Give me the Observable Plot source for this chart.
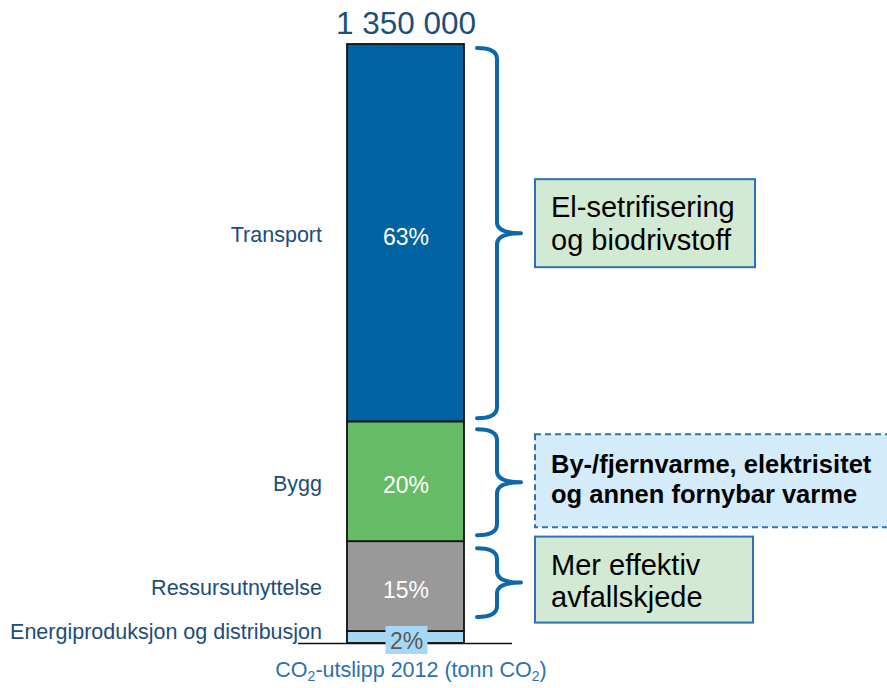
<!DOCTYPE html>
<html>
<head>
<meta charset="utf-8">
<script src="https://cdn.jsdelivr.net/npm/d3@7"></script>
<script src="https://cdn.jsdelivr.net/npm/@observablehq/plot@0.6"></script>
<style>
  html, body { margin: 0; padding: 0; background: #fff; }
  #chart svg { display: block; }
</style>
</head>
<body>
<div id="chart"></div>
<script>
// ---- data ----
const categories = ["Energiproduksjon og distribusjon", "Ressursutnyttelse", "Bygg", "Transport"];
const shares = [2, 15, 20, 63];
const totalLabel = "1 350 000";
const barKey = "2012";
const measureTargets = ["Transport", "Bygg", "Ressursutnyttelse"];
const measureLines = [
  ["El-setrifisering", "og biodrivstoff"],
  ["By-/fjernvarme, elektrisitet", "og annen fornybar varme"],
  ["Mer effektiv", "avfallskjede"]
];

// ---- styles ----
const colors = ["#A6D8F5", "#999999", "#66BC66", "#0063A2"];
const labelColor = "#1C4E7A";
const braceColor = "#0E67A7";
const font = "'Liberation Sans', Arial, sans-serif";

// derived stack
const ends = d3.cumsum(shares);
const data = categories.map((c, i) => ({
  category: c, share: shares[i], y1: ends[i] - shares[i], y2: ends[i],
  mid: ends[i] - shares[i] / 2, label: shares[i] + "%"
}));
const inside = data.filter(d => d.share > 5);
const small = data.filter(d => d.share <= 5);

const chart = Plot.plot({
  width: 887, height: 688,
  marginLeft: 347, marginRight: 423, marginTop: 44, marginBottom: 45,
  style: {fontFamily: font, background: "#fff", overflow: "visible"},
  x: {type: "band", domain: [barKey], padding: 0, axis: null},
  y: {domain: [0, 100], axis: null},
  color: {domain: categories, range: colors},
  marks: [
    Plot.rectY(data, {x: () => barKey, y1: "y1", y2: "y2", fill: "category", stroke: "#111", strokeWidth: 1.8}),
    Plot.text(inside, {x: () => barKey, y: "mid", text: "label", fill: "white", fontSize: 23, dy: 4}),
    Plot.text(inside, {x: () => barKey, y: "mid", text: "category", textAnchor: "end", dx: -84, dy: 2, fill: labelColor, fontSize: 21.5}),
    Plot.text(small, {x: () => barKey, y: "mid", text: "category", textAnchor: "end", dx: -84, dy: -5, fill: labelColor, fontSize: 21.5}),
    Plot.text([totalLabel], {x: () => barKey, y: () => 100, text: d => d, dy: -21, fill: labelColor, fontSize: 31.5})
  ]
});

document.getElementById("chart").appendChild(chart);

// ---- annotations using the plot's own scales ----
const ys = chart.scale("y");
const xs = chart.scale("x");
const y = d3.scaleLinear().domain(ys.domain).range(ys.range);
const barLeft = Math.min(...xs.range), barRight = Math.max(...xs.range);
const svg = d3.select(chart);
const g = svg.append("g").attr("text-anchor", "start");

// baseline
g.append("line").attr("x1", barLeft - 49).attr("x2", barRight + 48)
  .attr("y1", y(0) + 0.5).attr("y2", y(0) + 0.5).attr("stroke", "#111").attr("stroke-width", 1.5);

// small segment label with background
small.forEach(d => {
  const cx = (barLeft + barRight) / 2 + 1, cy = y(d.mid) + 3;
  g.append("rect").attr("x", cx - 21).attr("y", cy - 14).attr("width", 42).attr("height", 28)
    .attr("fill", colors[categories.indexOf(d.category)]);
  g.append("text").attr("x", cx).attr("y", cy + 9).attr("text-anchor", "middle")
    .attr("font-size", 23).attr("fill", "#595959").attr("font-family", font).text(d.label);
});

// x-axis label with subscripts
const xl = g.append("text").attr("x", 411).attr("y", 677).attr("text-anchor", "middle")
  .attr("font-size", 21.5).attr("fill", "#2A72B0").attr("font-family", font);
xl.append("tspan").text("CO");
xl.append("tspan").attr("font-size", 14).attr("dy", 4).text("2");
xl.append("tspan").attr("dy", -4).text("-utslipp 2012 (tonn CO");
xl.append("tspan").attr("font-size", 14).attr("dy", 4).text("2");
xl.append("tspan").attr("dy", -4).text(")");

// braces + boxes
const braceInsets = [[4, 3], [8, 6], [7, 14]];
const boxLayout = [
  {top: -54, h: 88, w: 220, fill: "#D2EAD3", dash: null, bold: false, size: 29, lines: [38, 71]},
  {top: -48, h: 93, w: 360, fill: "#D4ECFA", dash: "6,4", bold: true, size: 25.5, lines: [39, 69]},
  {top: -46, h: 86, w: 218, fill: "#D2EAD3", dash: null, bold: false, size: 29, lines: [38, 70]}
];
measureTargets.forEach((cat, i) => {
  const d = data.find(e => e.category === cat);
  const t = y(d.y2) + braceInsets[i][0];
  const b = y(d.y1) - braceInsets[i][1];
  const m = (t + b) / 2;
  const x0 = barRight + 13, sx = barRight + 33, tip = barRight + 57, r = 11;
  const p = `M${x0},${t} Q${sx},${t} ${sx},${t + r} L${sx},${m - r} Q${sx},${m} ${tip},${m} Q${sx},${m} ${sx},${m + r} L${sx},${b - r} Q${sx},${b} ${x0},${b}`;
  g.append("path").attr("d", p).attr("fill", "none").attr("stroke", braceColor)
    .attr("stroke-width", 4).attr("stroke-linecap", "round").attr("stroke-linejoin", "round");
  const L = boxLayout[i];
  const bx = barRight + 71, by = m + L.top;
  const rect = g.append("rect").attr("x", bx).attr("y", by).attr("width", L.w).attr("height", L.h)
    .attr("fill", L.fill).attr("stroke", "#2C72B2").attr("stroke-width", 2);
  if (L.dash) rect.attr("stroke-dasharray", L.dash);
  measureLines[i].forEach((line, j) => {
    g.append("text").attr("x", bx + 16).attr("y", by + L.lines[j]).attr("font-size", L.size)
      .attr("text-anchor", "start")
      .attr("font-weight", L.bold ? "bold" : "normal").attr("fill", "#000").attr("font-family", font).text(line);
  });
});
</script>
</body>
</html>
